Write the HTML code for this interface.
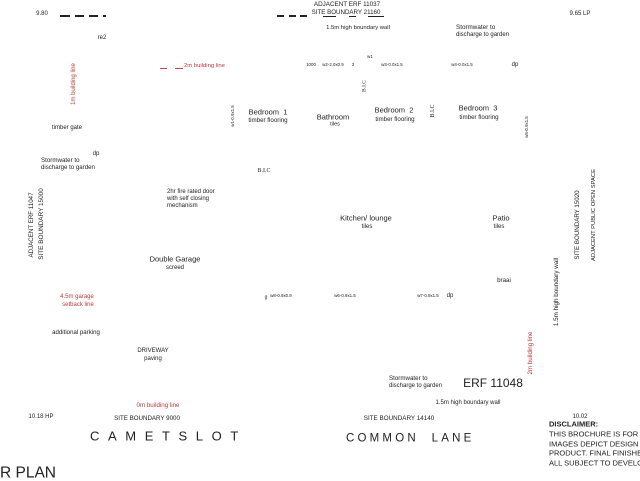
<!DOCTYPE html>
<html><head><meta charset="utf-8"><style>
html,body{margin:0;padding:0;background:#fff;}
body{width:640px;height:480px;position:relative;overflow:hidden;font-family:"Liberation Sans",Arial,sans-serif;color:#222;}
.t{position:absolute;white-space:nowrap;line-height:1;transform:translate(-50%,-50%);}
.l{position:absolute;white-space:nowrap;line-height:1;transform:translate(0,-50%);}
.v{transform:translate(-50%,-50%) rotate(-90deg);}
.s{font-size:8px;transform:translate(-50%,-50%) scale(.55);}
.sv{font-size:8px;transform:translate(-50%,-50%) rotate(-90deg) scale(.55);}
.r{color:#b83c3c;}
.se{font-family:"Liberation Serif",serif;}
.d{position:absolute;background:#222;}
.dr{position:absolute;background:#c04848;}
.clip{position:absolute;left:549px;top:416px;width:91px;height:64px;overflow:hidden;}
.clip .l{left:0;}
</style></head><body>

<!-- top-left dashes -->
<div class="t" style="left:42px;top:14px;font-size:6px">9.80</div>
<div class="d" style="left:60px;top:15px;width:10px;height:1.5px"></div>
<div class="d" style="left:75px;top:15px;width:9px;height:1.5px"></div>
<div class="d" style="left:89px;top:15px;width:9px;height:1.5px"></div>
<div class="d" style="left:103px;top:15px;width:3px;height:1.5px"></div>

<!-- top center dashes -->
<div class="d" style="left:277px;top:15px;width:7px;height:1.5px"></div>
<div class="d" style="left:289px;top:15px;width:7px;height:1.5px"></div>
<div class="d" style="left:300px;top:15px;width:7px;height:1.5px"></div>
<div class="d" style="left:323px;top:15.5px;width:13px;height:1px"></div>
<div class="d" style="left:349px;top:15.5px;width:7px;height:1px"></div>
<div class="d" style="left:368px;top:15.5px;width:16px;height:1px"></div>

<div class="t" style="left:347px;top:5px;font-size:6.3px">ADJACENT ERF 11037</div>
<div class="t" style="left:346px;top:13px;font-size:6.2px">SITE BOUNDARY 21160</div>
<div class="t" style="left:580px;top:14px;font-size:6.1px">9.65 LP</div>
<div class="t" style="left:358px;top:29px;font-size:5.9px">1.5m high boundary wall</div>
<div class="l" style="left:456px;top:28px;font-size:6.3px">Stormwater to</div>
<div class="l" style="left:456px;top:35px;font-size:6px">discharge to garden</div>
<div class="t" style="left:102px;top:38px;font-size:6px">re2</div>

<!-- red 2m building line -->
<div class="dr" style="left:160px;top:67.5px;width:7px;height:1px"></div>
<div class="dr" style="left:175px;top:67.5px;width:8px;height:1px"></div>
<div class="l r" style="left:184px;top:67px;font-size:5.9px">2m building line</div>
<div class="t v r" style="left:74px;top:84px;font-size:6px">1m building line</div>

<!-- window labels top -->
<div class="t s" style="left:311px;top:65px">1000</div>
<div class="t s" style="left:333px;top:65px">w2-2.0x0.9</div>
<div class="t s" style="left:353px;top:65px">3</div>
<div class="t s" style="left:370px;top:57px">w1</div>
<div class="t s" style="left:392px;top:65px">w3-0.0x1.5</div>
<div class="t s" style="left:462px;top:65px">w4-0.0x1.5</div>
<div class="t" style="left:515px;top:65px;font-size:6px">dp</div>
<div class="t v se" style="left:365px;top:86px;font-size:5.5px">B.I.C</div>

<div class="t" style="left:67px;top:128px;font-size:6px">timber gate</div>
<div class="t" style="left:96px;top:154px;font-size:6px">dp</div>

<!-- rooms top row -->
<div class="t sv" style="left:233px;top:116px">w1-0.9x1.5</div>
<div class="t" style="left:268px;top:112px;font-size:7.5px">Bedroom&nbsp; 1</div>
<div class="t" style="left:268px;top:121px;font-size:6.2px">timber flooring</div>
<div class="t" style="left:333px;top:117px;font-size:7.5px">Bathroom</div>
<div class="t" style="left:335px;top:125px;font-size:5.5px">tiles</div>
<div class="t" style="left:394px;top:110px;font-size:7.5px">Bedroom&nbsp; 2</div>
<div class="t" style="left:395px;top:120px;font-size:6.2px">timber flooring</div>
<div class="t v se" style="left:433px;top:111px;font-size:6px">B.I.C</div>
<div class="t" style="left:478px;top:108px;font-size:7.5px">Bedroom&nbsp; 3</div>
<div class="t" style="left:479px;top:118px;font-size:6.2px">timber flooring</div>
<div class="t sv" style="left:527px;top:127px">w5-0.9x1.5</div>

<!-- left side -->
<div class="l" style="left:41px;top:161px;font-size:6.2px">Stormwater to</div>
<div class="l" style="left:41px;top:168px;font-size:6.1px">discharge to garden</div>
<div class="t v" style="left:32px;top:225px;font-size:6.2px">ADJACENT ERF 11047</div>
<div class="t v" style="left:42px;top:224px;font-size:6.4px">SITE BOUNDARY 15000</div>
<div class="t se" style="left:264px;top:171px;font-size:6px">B.I.C</div>
<div class="l" style="left:167px;top:192px;font-size:6px">2hr fire rated door</div>
<div class="l" style="left:167px;top:199px;font-size:6px">with self closing</div>
<div class="l" style="left:167px;top:206px;font-size:6px">mechanism</div>
<div class="t" style="left:175px;top:259px;font-size:7.5px">Double Garage</div>
<div class="t" style="left:175px;top:268px;font-size:6px">screed</div>
<div class="t r" style="left:77px;top:297px;font-size:6px">4.5m garage</div>
<div class="t r" style="left:78px;top:305px;font-size:6px">setback line</div>
<div class="t" style="left:266px;top:298px;font-size:5px">g</div>
<div class="t s" style="left:281px;top:296px">w8-0.9x0.9</div>

<!-- middle -->
<div class="t" style="left:366px;top:218px;font-size:7.5px">Kitchen/ lounge</div>
<div class="t" style="left:367px;top:227px;font-size:6px">tiles</div>
<div class="t" style="left:501px;top:218px;font-size:7.5px">Patio</div>
<div class="t" style="left:499px;top:227px;font-size:6px">tiles</div>
<div class="t" style="left:504px;top:281px;font-size:6.2px">braai</div>
<div class="t s" style="left:345px;top:296px">w6-0.9x1.5</div>
<div class="t s" style="left:428px;top:296px">w7-0.9x1.5</div>
<div class="t" style="left:450px;top:296px;font-size:6px">dp</div>

<!-- right side -->
<div class="t v" style="left:578px;top:225px;font-size:6.2px">SITE BOUNDARY 15020</div>
<div class="t v" style="left:595px;top:215px;font-size:5.8px">ADJACENT PUBLIC OPEN SPACE</div>
<div class="t v" style="left:557px;top:292px;font-size:6.3px">1.5m high boundary wall</div>
<div class="t v r" style="left:531px;top:353px;font-size:6.2px">2m building line</div>

<!-- bottom left -->
<div class="t" style="left:76px;top:333px;font-size:6.1px">additional parking</div>
<div class="t" style="left:153px;top:351px;font-size:6px">DRIVEWAY</div>
<div class="t" style="left:153px;top:359px;font-size:6px">paving</div>
<div class="t r" style="left:158px;top:406px;font-size:6.2px">0m building line</div>
<div class="t" style="left:41px;top:417px;font-size:6px">10.18 HP</div>
<div class="t" style="left:147px;top:419px;font-size:6.2px">SITE BOUNDARY 9000</div>
<div class="l" style="left:90px;top:436px;font-size:13px;letter-spacing:8.6px">CAMETSLOT</div>
<div class="l" style="left:0px;top:473px;font-size:15.5px">R PLAN</div>

<!-- bottom right -->
<div class="l" style="left:389px;top:379px;font-size:6.2px">Stormwater to</div>
<div class="l" style="left:389px;top:385.5px;font-size:6px">discharge to garden</div>
<div class="t" style="left:493px;top:383px;font-size:12px">ERF 11048</div>
<div class="t" style="left:468px;top:403px;font-size:6px">1.5m high boundary wall</div>
<div class="t" style="left:399px;top:419px;font-size:6.3px">SITE BOUNDARY 14140</div>
<div class="l" style="left:346px;top:439px;font-size:11.5px;letter-spacing:3.2px">COMMON&nbsp; LANE</div>
<div class="t" style="left:580px;top:417px;font-size:6px">10.02</div>
<div class="clip">
<div class="l" style="top:8px;font-size:7.5px;font-weight:bold">DISCLAIMER:</div>
<div class="l" style="top:18px;font-size:7.5px">THIS BROCHURE IS FOR ILLUSTRATIVE PURPOSES ONLY</div>
<div class="l" style="top:27.5px;font-size:7.5px">IMAGES DEPICT DESIGN INTENT</div>
<div class="l" style="top:37px;font-size:7.5px">PRODUCT. FINAL FINISHES MAY VARY</div>
<div class="l" style="top:46.5px;font-size:7.5px">ALL SUBJECT TO DEVELOPER</div>
</div>

</body></html>
